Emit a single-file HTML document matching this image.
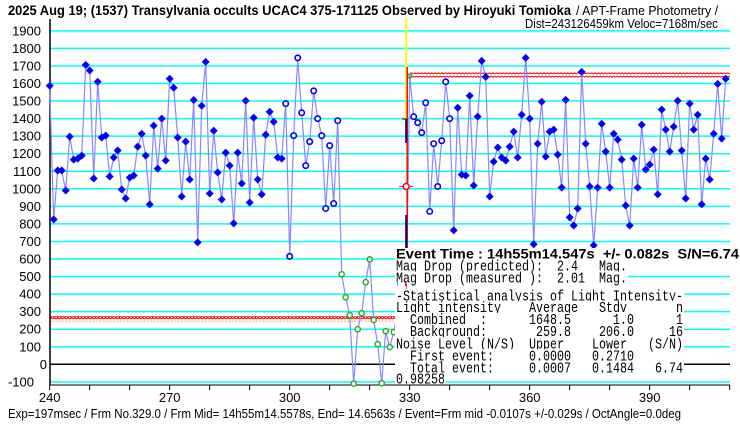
<!DOCTYPE html>
<html><head><meta charset="utf-8"><style>
html,body{margin:0;padding:0;background:#fff;}
svg{display:block;}
text{font-family:"Liberation Sans","Noto Sans CJK JP",sans-serif;}
.m{font-family:"Liberation Mono","Noto Sans CJK JP",monospace;}
</style></head><body>
<svg id="chart" width="740" height="425" viewBox="0 0 740 425" xmlns="http://www.w3.org/2000/svg">
<defs>
<pattern id="redDots" x="0" y="0" width="3.4" height="5" patternUnits="userSpaceOnUse">
<circle cx="1.7" cy="2.5" r="1.3" fill="none" stroke="#ff0000" stroke-width="1"/>
</pattern>
</defs>
<g id="grid"></g>
<g id="axes"></g>
<g id="series"></g>
<g id="event"></g>
<g id="info"></g>
<text x="8" y="15" font-size="13.5" font-weight="bold" textLength="563" lengthAdjust="spacingAndGlyphs">2025 Aug 19; (1537) Transylvania occults UCAC4 375-171125 Observed by Hiroyuki Tomioka</text>
<text x="576" y="15" font-size="13" textLength="142" lengthAdjust="spacingAndGlyphs">/ APT-Frame Photometry /</text>
<text x="525" y="28" font-size="13" textLength="193" lengthAdjust="spacingAndGlyphs">Dist=243126459km Veloc=7168m/sec</text>
<text x="8" y="418" font-size="13" textLength="673" lengthAdjust="spacingAndGlyphs">Exp=197msec / Frm No.329.0 / Frm Mid= 14h55m14.5578s, End= 14.6563s / Event=Frm mid -0.0107s +/-0.029s / OctAngle=0.0deg</text>
</svg>
<script>
const yTicks = [-100,0,100,200,300,400,500,600,700,800,900,1000,1100,1200,1300,1400,1500,1600,1700,1800,1900];
const xTickLabels = [240,270,300,330,360,390];
const frames = [];
for (let f = 240; f <= 409; f++) frames.push(f);
const intensity = [1587,826,1104,1104,990,1297,1166,1172,1189,1706,1674,1059,1610,1292,1303,1070,1178,1218,996,945,
1064,1076,1240,1314,1189,911,1360,1115,1400,1161,1627,1576,1292,956,1269,1053,1506,695,1473,1723,
973,1331,1093,939,1206,1132,803,1206,1030,1502,922,1405,1053,968,1308,1439,1382,1178,1172,1485,
615,1303,1746,1433,1132,1269,1558,1400,1303,888,1246,916,1388,513,382,280,-110,200,291,468,
598,252,115,-108,189,98,183,300,120,150,1648,1411,1377,1320,1490,871,1257,1013,1274,1610,
1400,763,1462,1081,1076,1530,1019,1411,1729,1638,956,1155,1235,1178,1161,1240,1326,1178,1422,1746,
1400,684,1257,1496,1183,1326,1337,1195,1007,1507,837,791,888,1666,1257,1013,678,1007,1371,1212,
1007,1314,1280,1166,905,791,1172,1007,1365,1110,1138,1223,968,1451,1337,1212,1354,1502,1218,945,
1485,1337,1422,911,1172,1053,1314,1598,1286,1627];
const hollowRanges = [[299,312],[331,340]];
const occultRange = [313,326];
const combinedFrame = 330;
const combinedAvg = 1648.5;
const backgroundAvg = 259.8;
const eventFrame = 329;
const eventIntensity = 1013;

const NS = "http://www.w3.org/2000/svg";
const X0 = 49.7, PXF = 4.0, Y0 = 364.3, PXV = 0.1755;
const PL = 50, PR = 730, PT = 19, PB = 385;
function xs(f){ return X0 + (f-240)*PXF; }
function ys(v){ return Y0 - v*PXV; }
function mk(tag, attrs, parent){ const e=document.createElementNS(NS,tag); for(const k in attrs) e.setAttribute(k,attrs[k]); parent.appendChild(e); return e; }

const grid = document.getElementById('grid');
const axes = document.getElementById('axes');
const series = document.getElementById('series');
const ev = document.getElementById('event');
const info = document.getElementById('info');

yTicks.forEach(v => {
  const l = mk('line',{x1:PL,x2:PR,y1:ys(v),y2:ys(v),stroke: v===0?'#000000':'#00ffff','stroke-width':1.5},grid);
  
  
  const t = mk('text',{x: v===0?47:(v<0?34:41),y:ys(v)+4.5,'font-size':13,'text-anchor':'end'},axes);
  t.textContent = v;
  
  
});
const ya = mk('line',{x1:PL,x2:PL,y1:PT,y2:PB,stroke:'#000','stroke-width':1.5},axes);


const xa = mk('line',{x1:PL,x2:PR,y1:PB,y2:PB,stroke:'#000','stroke-width':1},axes);


for (let f=240; f<=410; f+=10){
  const tk = mk('line',{x1:xs(f),x2:xs(f),y1:PB,y2:PB+5,stroke:'#000'},axes);
  
  
}
xTickLabels.forEach(f => {
  const t = mk('text',{x:xs(f),y:402,'font-size':13,'text-anchor':'middle'},axes);
  t.textContent = f;
  
  
});

// red average lines
const bg = mk('rect',{x:PL,y:ys(backgroundAvg)-2.5,width:395-PL,height:5,fill:'url(#redDots)'},grid);


const cb = mk('rect',{x:xs(combinedFrame),y:ys(combinedAvg)-2.5,width:PR-xs(combinedFrame),height:5,fill:'url(#redDots)'},grid);



// line
const pts = frames.map((f,i)=>xs(f).toFixed(1)+','+ys(intensity[i]).toFixed(1)).join(' ');
const pl = mk('polyline',{points:pts,fill:'none',stroke:'#8888ff','stroke-width':1.2},series);



function inRanges(f, rs){ return rs.some(r=>f>=r[0]&&f<=r[1]); }
frames.forEach((f,i)=>{
  const x=xs(f), y=ys(intensity[i]);
  if (f>=327 && f<=329) return;
  let m;
  if (f===combinedFrame){
    m = mk('circle',{cx:x,cy:y+1,r:2,fill:'none',stroke:'#22aa22','stroke-width':1.3},series);
  } else if (f>=occultRange[0] && f<=occultRange[1]){
    m = mk('circle',{cx:x,cy:y,r:2.6,fill:'#fff',stroke:'#22aa22','stroke-width':1.4},series);
  } else if (inRanges(f,hollowRanges)){
    m = mk('circle',{cx:x,cy:y,r:2.7,fill:'#fff',stroke:'#0000ff','stroke-width':1.6},series);
  } else {
    m = mk('polygon',{points:`${x},${y-4} ${x+4},${y} ${x},${y+4} ${x-4},${y}`,fill:'#0000ff'},series);
  }
  
  
});

// event marker
const ex = xs(eventFrame)+0.5;
const yl = mk('line',{x1:ex,x2:ex,y1:18,y2:120,stroke:'#ffff00','stroke-width':2},ev);


const rl = mk('line',{x1:ex+1,x2:ex+1,y1:67,y2:248,stroke:'#ff0000','stroke-width':1.5},ev);


const nv1 = mk('line',{x1:ex,x2:ex,y1:119,y2:143,stroke:'#000080','stroke-width':2},ev);


const nv2 = mk('line',{x1:ex,x2:ex,y1:215,y2:248,stroke:'#000080','stroke-width':2},ev);


const nt = mk('line',{x1:ex-4,x2:ex,y1:119,y2:119,stroke:'#000','stroke-width':1},ev);


const hb = mk('line',{x1:ex-7,x2:ex+7,y1:ys(eventIntensity),y2:ys(eventIntensity),stroke:'#cc00cc','stroke-width':1},ev);


const ec = mk('circle',{cx:ex,cy:ys(eventIntensity),r:3,fill:'#fff',stroke:'#ff0000','stroke-width':1.5},ev);



// info box
const rows = [
  ['Event Time : 14h55m14.547s  +/- 0.082s  S/N=6.74', 254, true, 343],
  ['Mag Drop (predicted):  2.4   Mag.', 265.7],
  ['Mag Drop (measured ):  2.01  Mag.', 277.7],
  ['-Statistical analysis of Light Intensity-', 295.3],
  ['Light intensity    Average   Stdv       n', 307],
  ['  Combined  :      1648.5      1.0      1', 319],
  ['  Background:       259.8    206.0     16', 331],
  ['Noise Level (N/S)  Upper    Lower   (S/N)', 343.3],
  ['  First event:     0.0000   0.2710', 355.3],
  ['  Total event:     0.0007   0.1484   6.74', 367.3],
  ['0.98258', 378.5]
];
const rowNames = ['event-time-text','mag-drop-predicted','mag-drop-measured','stats-heading','stats-header-row','combined-row','background-row','noise-header-row','first-event-row','total-event-row','ratio-value'];
rows.forEach((r,i)=>{
  const txt=r[0], cy=r[1], bold=!!r[2];
  const w = bold ? r[3] : txt.length*7;
  const bgr = mk('rect',{x:395,y:cy-6,width:w+2,height:12,fill:'#fff'},info);
  
  
  const t = mk('text',{x:396,y:cy+(bold?4.5:5),'font-size':bold?14:14.5,textLength:w,lengthAdjust:'spacingAndGlyphs'},info);
  if (bold){ t.setAttribute('font-weight','bold'); }
  else { t.setAttribute('class','m'); }
  t.setAttribute('xml:space','preserve');
  t.style.whiteSpace='pre';
  t.textContent = txt;
  
  
});
const tick1 = mk('rect',{x:397,y:281,width:1,height:5,fill:'#8888ff'},info);


const tick2 = mk('rect',{x:405,y:281,width:1.5,height:5,fill:'#ff0000'},info);


</script>
</body></html>
